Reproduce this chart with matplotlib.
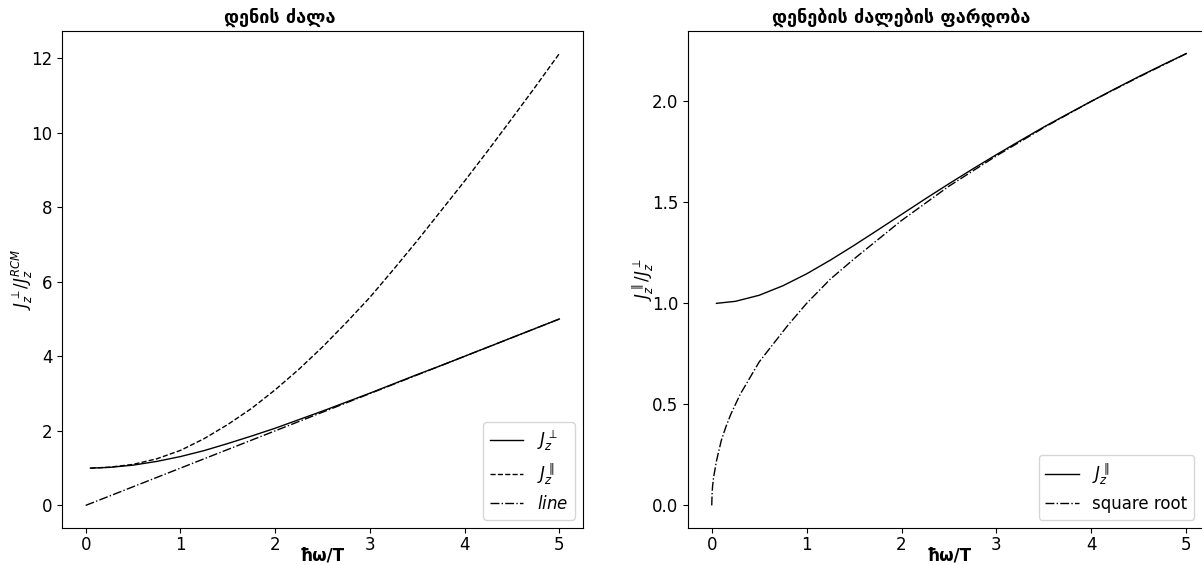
"""Current ratio figure: J_perp, J_par and their ratio vs hbar*omega/T."""

import matplotlib
matplotlib.use('Agg')
import matplotlib.pyplot as plt

plt.rcParams['font.family'] = ['DejaVu Sans']
plt.rcParams['font.size'] = 12
plt.rcParams['xtick.major.pad'] = 2.0

#%% values

x_curr = [0.05, 0.25, 0.5, 0.75, 1.0, 1.25, 1.5, 1.75, 2.0, 2.25, 2.5, 2.75,
          3.0, 3.25, 3.5, 3.75, 4.0, 4.25, 4.5, 4.75, 5.0]
j_perp = [1.0, 1.02, 1.08, 1.18, 1.31, 1.47, 1.66, 1.86, 2.07, 2.30, 2.53,
          2.77, 3.01, 3.26, 3.51, 3.75, 4.0, 4.25, 4.5, 4.75, 5.0]
j_par = [1.0, 1.025, 1.1, 1.25, 1.475, 1.79, 2.17, 2.6, 3.1, 3.65, 4.25,
         4.9, 5.58, 6.33, 7.1, 7.9, 8.7, 9.53, 10.38, 11.24, 12.12]
x_line = [0.0, 5.0]
y_line = [0.0, 5.0]

x_ratio = x_curr
ratio = [1.0, 1.01, 1.04, 1.087, 1.146, 1.214, 1.287, 1.363, 1.44, 1.517,
         1.592, 1.665, 1.736, 1.805, 1.873, 1.937, 2.0, 2.062, 2.122, 2.18,
         2.236]
x_sqrt = [0.0, 0.005, 0.01, 0.02, 0.05, 0.1, 0.15, 0.2, 0.3, 0.4, 0.5, 0.6,
          0.8, 1.0, 1.25, 1.5, 2.0, 2.5, 3.0, 3.5, 4.0, 4.5, 5.0]
y_sqrt = [0.0, 0.07, 0.1, 0.14, 0.22, 0.32, 0.39, 0.45, 0.55, 0.63, 0.71,
          0.77, 0.89, 1.0, 1.12, 1.22, 1.41, 1.58, 1.73, 1.87, 2.0, 2.12, 2.236]

#%%

FIGURE = plt.figure(figsize=(12.02, 5.65), dpi=100)
AX1 = FIGURE.add_axes([62 / 1202, 37 / 565, 521 / 1202, 497 / 565])
AX2 = FIGURE.add_axes([688 / 1202, 37 / 565, 522 / 1202, 497 / 565])

AX1.plot(x_curr, j_perp, color='black', lw=1, ls='-', label=r'$J_z^{\perp}$')
AX1.plot(x_curr, j_par, color='black', lw=1, ls='--', label=r'$J_z^{\parallel}$')
AX1.plot(x_line, y_line, color='black', lw=1, ls='-.', label=r'$line$')
AX1.set_title('დენის ძალა', fontweight='bold', fontsize=13, x=0.418)
AX1.set_xlabel('ħω/T', fontweight='bold', labelpad=-5)
AX1.set_ylabel(r'$J_z^{\perp}/J_z^{RCM}$', labelpad=-3)
AX1.legend(loc='lower right')

AX2.plot(x_ratio, ratio, color='black', lw=1, ls='-', label=r'$J_z^{\parallel}$')
AX2.plot(x_sqrt, y_sqrt, color='black', lw=1, ls='-.', label='square root')
AX2.set_title('დენების ძალების ფარდობა', fontweight='bold', fontsize=13, x=0.408)
AX2.set_xlabel('ħω/T', fontweight='bold', labelpad=-5)
AX2.set_ylabel(r'$J_z^{\parallel}/J_z^{\perp}$', labelpad=-3)
AX2.set_yticks([0.0, 0.5, 1.0, 1.5, 2.0])
AX2.legend(loc='lower right', bbox_to_anchor=(0.985, 0.0))

FIGURE.savefig('out.png', dpi=100)
